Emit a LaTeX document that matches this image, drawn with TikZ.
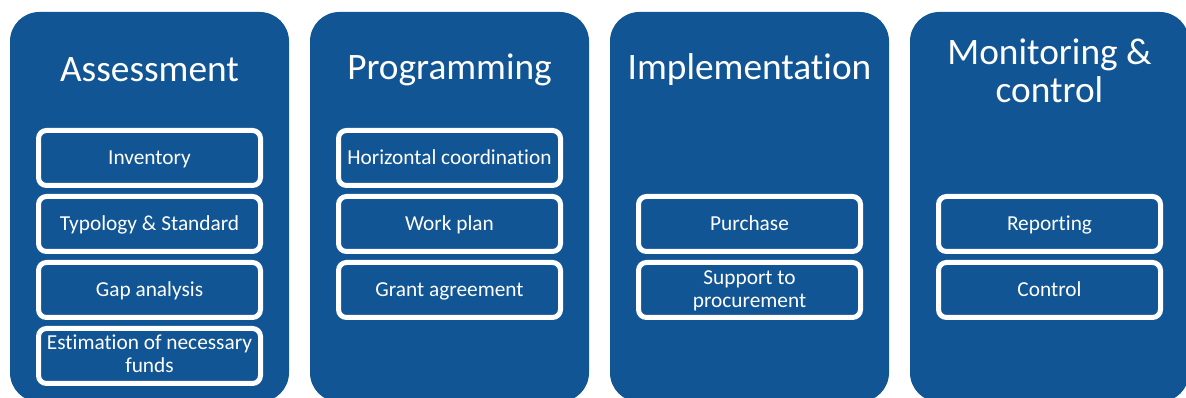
\documentclass[tikz,border=0pt]{standalone}
\usepackage{fontspec}
\setmainfont{Carlito}[Ligatures=NoCommon]
\definecolor{pblue}{RGB}{17,85,148}
\begin{document}
\begin{tikzpicture}[x=0.75pt,y=-0.75pt,
  colbox/.style={fill=pblue,draw=none,rounded corners=22pt},
  title/.style={text=white,font=\fontsize{28}{28.5}\selectfont,align=center},
  item/.style={draw=white,line width=3.75pt,rounded corners=6pt,fill=pblue,text=white,
    minimum width=166.5pt,minimum height=41.25pt,inner sep=0pt,align=center,
    text height=13pt,text depth=2.5pt,
    font=\fontsize{16}{17.25}\selectfont}]
\useasboundingbox (0,0) rectangle (1186,398);
\fill[white] (0,0) rectangle (1186,398);
\path[colbox] (10,12) rectangle (289,402);
\path[colbox] (310,12) rectangle (589,402);
\path[colbox] (610,12) rectangle (889,402);
\path[colbox] (910,12) rectangle (1189,402);
\node[title] (t1) at (149.5,70) {Assessment};
\node[title] (t2) at (449.5,70) {Programming};
\node[title] (t3) at (749.5,70) {Implementation};
\node[title] (t4) at (1049.5,71) {Monitoring \&\\control};
\node[item] (a1) at (149.5,158) {Inventory};
\node[item] (a2) at (149.5,224) {Typology \& Standard};
\node[item] (a3) at (149.5,290) {Gap analysis};
\node[item,text height=28.5pt,text depth=3pt] (a4) at (149.5,356) {Estimation of necessary\\funds};
\node[item] (p1) at (449.5,158) {Horizontal coordination};
\node[item] (p2) at (449.5,224) {Work plan};
\node[item] (p3) at (449.5,290) {Grant agreement};
\node[item] (i1) at (749.5,224) {Purchase};
\node[item,text height=30pt,text depth=3pt] (i2) at (749.5,290) {Support to\\procurement};
\node[item] (m1) at (1049.5,224) {Reporting};
\node[item] (m2) at (1049.5,290) {Control};
\end{tikzpicture}
\end{document}
